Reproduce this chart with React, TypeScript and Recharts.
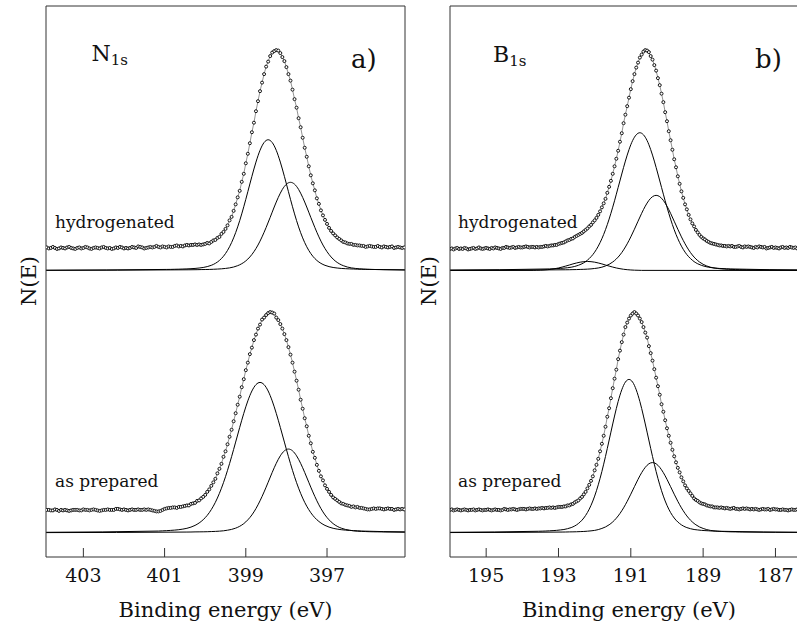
import React from 'react';
import { LineChart, Line, XAxis, YAxis } from 'recharts';

const SERIF = '"DejaVu Serif", "Liberation Serif", serif';
const INK = '#111';
const FRAME = '#333';

// Binding-energy axes (eV), drawn high-to-low as usual for XPS
const N1S_TICKS = [403, 401, 399, 397];
const B1S_TICKS = [195, 193, 191, 189, 187];
const N1S_RANGE: [number, number] = [395.08, 403.92];
const B1S_RANGE: [number, number] = [186.1, 196.0];
const INTENSITY_RANGE: [number, number] = [0, 110];

// Measured scans: one reading every 0.05 eV, starting at the high-energy end
const SCAN_STEP = 0.05;
const N1S_SCAN_START = 403.9;
const B1S_SCAN_START = 196.0;

// Fitted components: one value every 0.1 eV from `start`, plus the level at both window edges
const FIT_STEP = 0.1;
const FIT_BASE_HYDROGENATED = 57.2;

const n1sHydrogenatedScan = [
  61.8, 61.6, 61.7, 61.9, 61.7, 61.5, 61.6, 61.8, 61.7, 61.6,
  61.8, 61.9, 61.7, 61.6, 61.5, 61.7, 61.8, 61.6, 61.7, 61.9,
  61.8, 61.6, 61.5, 61.7, 61.8, 61.7, 61.6, 61.8, 61.9, 61.7,
  61.6, 61.7, 61.5, 61.6, 61.8, 61.7, 61.9, 61.8, 61.6, 61.7,
  61.6, 61.7, 61.9, 61.8, 61.7, 62.0, 61.9, 61.8, 61.6, 61.7,
  61.8, 61.9, 61.8, 61.9, 62.1, 61.9, 61.8, 62.0, 61.9, 61.8,
  62.0, 61.9, 61.9, 62.1, 62.2, 62.0, 62.1, 62.0, 62.2, 62.3,
  62.2, 62.3, 62.3, 62.4,
  62.3, 62.4, 62.3, 62.4, 62.5, 62.7, 62.6, 62.9, 63.2, 63.3,
  63.7, 63.9, 64.5, 64.9, 65.5, 66.2, 67.2, 67.9, 69.1, 70.4,
  71.8, 73.1, 74.9, 76.5, 78.6, 80.5, 82.6, 84.8, 86.7, 89.0,
  91.0, 93.0, 94.7, 96.4, 97.9, 98.9, 100.0, 100.7, 101.0, 101.2,
  101.1, 100.6, 99.8, 99.0, 97.8, 96.4, 95.1, 93.3, 91.4, 89.7,
  87.6, 85.8, 83.7, 81.7, 79.9, 78.0, 76.2, 74.6, 73.2, 71.6,
  70.5, 69.2, 68.2, 67.3, 66.5, 65.7, 65.1, 64.6, 64.2, 63.8,
  63.5, 63.2, 62.9, 62.8, 62.6, 62.5, 62.5, 62.3, 62.3, 62.2,
  62.2, 62.1,
  62.1, 61.9, 62.0, 62.1, 62.0, 61.9, 61.9, 62.1, 61.9, 61.8,
  62.0, 61.9, 61.8, 61.9, 62.0, 61.7, 61.8, 61.9, 61.8, 61.7, 61.8,
];

const n1sPreparedScan = [
  9.4, 9.4, 9.3, 9.3, 9.5, 9.4, 9.2, 9.4, 9.3, 9.4,
  9.3, 9.2, 9.3, 9.4, 9.4, 9.4, 9.3, 9.3, 9.5, 9.4,
  9.4, 9.3, 9.4, 9.5, 9.4, 9.3, 9.2, 9.3, 9.4, 9.4,
  9.5, 9.4, 9.4, 9.4, 9.6, 9.6, 9.5, 9.4, 9.5, 9.4,
  9.3, 9.4, 9.5, 9.4, 9.4, 9.5, 9.4, 9.4, 9.5, 9.4,
  9.5, 9.4, 9.3, 9.2, 9.1, 9.1, 9.2, 9.4, 9.6,
  9.7, 9.8, 9.8, 9.9, 9.9, 9.8, 10.0, 10.0, 10.1, 10.2,
  10.3, 10.3, 10.6, 10.7, 10.8, 11.2, 11.3, 11.7, 12.0, 12.4,
  13.0, 13.5, 14.2, 14.9, 15.6, 16.7, 17.6, 18.6, 20.0, 21.1,
  22.5, 24.0, 25.4, 27.1, 28.7, 30.4, 32.0, 33.9, 35.5, 37.3,
  38.8, 40.5, 41.8, 43.3, 44.4, 45.6, 46.4, 47.4, 47.8, 48.3,
  48.7, 48.9, 48.8, 48.6, 47.8, 47.3, 46.5, 45.6, 44.5, 43.3,
  41.9, 40.4, 38.8, 37.0, 35.2, 33.4, 31.4, 29.6, 27.7, 26.1,
  24.2, 22.7, 21.0, 19.8, 18.4, 17.2, 16.1, 15.3, 14.3, 13.6,
  13.0, 12.4, 11.9, 11.6, 11.3, 11.0, 10.7, 10.6, 10.4, 10.3,
  10.2, 10.0, 10.1, 9.9, 10.0, 9.8,
  9.8, 9.7, 9.6, 9.5, 9.5, 9.6, 9.7, 9.6, 9.7, 9.7,
  9.6, 9.5, 9.6, 9.7, 9.6, 9.6, 9.4, 9.5, 9.6, 9.5, 9.6, 9.5,
];

const b1sHydrogenatedScan = [
  61.5, 61.6, 61.4, 61.6, 61.7, 61.5, 61.6, 61.5, 61.7, 61.6,
  61.4, 61.5, 61.6, 61.7, 61.5, 61.6, 61.8, 61.6, 61.5, 61.6,
  61.7, 61.6, 61.5, 61.7, 61.6, 61.8, 61.7, 61.6, 61.5, 61.7,
  61.7, 61.9, 61.8, 61.7, 61.8, 61.9, 61.7, 61.8, 61.9, 61.8,
  61.8, 61.9, 62.0, 61.9, 61.8, 61.9,
  61.9, 61.8, 61.9, 61.8, 61.9, 61.9, 62.0, 62.1, 62.0, 62.1,
  62.2, 62.2, 62.3, 62.3, 62.5, 62.6, 62.7, 62.8, 63.0, 63.2,
  63.3, 63.5, 63.6, 63.9, 64.1, 64.3, 64.5, 64.7, 65.0, 65.3,
  65.6, 66.0, 66.3, 66.8, 67.2, 67.7, 68.3, 69.0, 69.8, 70.6,
  71.5, 72.7, 73.9, 75.1, 76.5, 78.0, 79.5, 81.1, 82.9, 84.6,
  86.6, 88.3, 90.0, 91.7, 93.4, 95.0, 96.4, 97.7, 98.7, 99.7,
  100.3, 100.9, 101.2, 101.1, 100.8, 100.0, 99.3, 98.2, 97.1, 95.6,
  94.2, 92.5, 90.8, 88.8, 87.0, 85.0, 83.2, 81.3, 79.4, 77.8,
  76.0, 74.5, 73.0, 71.7, 70.4, 69.4, 68.3, 67.4, 66.6, 66.0,
  65.3, 64.8, 64.3, 63.9, 63.6, 63.4, 63.1, 62.9, 62.7, 62.6,
  62.5, 62.4, 62.3, 62.2, 62.2, 62.1, 62.1, 62.0, 62.1,
  62.0, 62.1, 61.9, 61.9, 62.0,
  62.1, 61.9, 61.8, 62.0, 61.9, 62.0, 61.9, 61.8, 61.7, 61.9,
  61.8, 62.0, 61.9, 61.8, 61.9, 61.6, 61.7, 61.8, 61.9, 61.7,
  61.8, 61.7, 61.6, 61.8, 61.9, 61.7, 61.8, 61.7, 61.9, 61.8,
  61.7, 61.8, 61.6, 61.7, 61.7, 61.8, 61.6, 61.7, 61.6,
];

const b1sPreparedScan = [
  9.4, 9.5, 9.3, 9.4, 9.5, 9.4, 9.3, 9.4, 9.5, 9.4,
  9.3, 9.4, 9.4, 9.5, 9.3, 9.4, 9.5, 9.4, 9.3, 9.4,
  9.4, 9.5, 9.4, 9.3, 9.4, 9.5, 9.4, 9.4, 9.3, 9.4,
  9.6, 9.5, 9.4, 9.5, 9.5, 9.6, 9.5, 9.4, 9.5, 9.6,
  9.6, 9.6, 9.5, 9.6, 9.7, 9.6, 9.6, 9.7, 9.6, 9.7,
  9.7, 9.8, 9.7, 9.8, 9.8, 9.9, 9.8,
  9.9, 9.8, 9.9, 10.0, 10.0, 10.0, 10.1, 10.1, 10.3, 10.3,
  10.5, 10.6, 10.9, 11.1, 11.3, 11.7, 12.0, 12.5, 13.0, 13.7,
  14.4, 15.2, 16.1, 17.3, 18.4, 19.6, 21.1, 22.6, 24.2, 26.0,
  28.0, 29.7, 31.7, 33.7, 35.6, 37.4, 39.5, 41.2, 42.9, 44.4,
  45.9, 46.8, 47.6, 48.2, 48.6, 48.9, 48.6, 48.2, 47.6, 46.9,
  45.9, 44.8, 43.8, 42.1, 40.7, 39.2, 37.5, 35.8, 34.1, 32.4,
  30.5, 29.0, 27.3, 25.7, 24.2, 22.8, 21.4, 20.1, 18.9, 17.8,
  16.9, 15.9, 15.1, 14.3, 13.7, 13.2, 12.7, 12.2, 11.7, 11.4,
  11.2, 10.9, 10.7, 10.6, 10.5, 10.3, 10.2, 10.1, 10.1, 9.9,
  9.9, 9.9, 9.8, 9.9, 9.8, 9.7,
  9.8, 9.7, 9.6, 9.7, 9.8, 9.6, 9.6, 9.5, 9.6, 9.7,
  9.6, 9.7, 9.6, 9.5, 9.6, 9.5, 9.6, 9.5, 9.4, 9.5,
  9.6, 9.5, 9.5, 9.6, 9.4, 9.5, 9.6, 9.5, 9.5, 9.4,
  9.4, 9.5, 9.4, 9.4, 9.3, 9.4, 9.5, 9.4, 9.4, 9.5,
  9.4, 9.3, 9.4, 9.5, 9.4, 9.4,
];

// N 1s fitted components
const n1sHydrogenatedFitHigh = { start: 400.95, edges: [57.25, 57.31], values: [
  57.41, 57.42, 57.44, 57.46, 57.49, 57.52, 57.56, 57.61, 57.69, 57.8,
  57.97, 58.23, 58.62, 59.2, 60.04, 61.21, 62.77, 64.75, 67.15, 69.92,
  72.93, 75.99, 78.84, 81.19, 82.75, 83.3, 82.75, 81.19, 78.84, 75.99,
  72.93, 69.92, 67.15, 64.75, 62.77, 61.21, 60.04, 59.2, 58.62, 58.23,
  57.97, 57.8, 57.69, 57.61, 57.56, 57.52, 57.49, 57.46, 57.44, 57.42,
  57.41,
] };
const n1sHydrogenatedFitLow = { start: 400.4, edges: [57.23, 57.31], values: [
  57.34, 57.35, 57.36, 57.38, 57.39, 57.41, 57.44, 57.48, 57.53, 57.61,
  57.72, 57.89, 58.16, 58.55, 59.11, 59.9, 60.95, 62.28, 63.91, 65.78,
  67.8, 69.87, 71.79, 73.38, 74.43, 74.8, 74.43, 73.38, 71.79, 69.87,
  67.8, 65.78, 63.91, 62.28, 60.95, 59.9, 59.11, 58.55, 58.16, 57.89,
  57.72, 57.61, 57.53, 57.48, 57.44, 57.41, 57.39, 57.38, 57.36, 57.35,
  57.34,
] };
const n1sPreparedFitHigh = { start: 401.15, edges: [4.93, 5.02], values: [
  5.18, 5.22, 5.26, 5.31, 5.37, 5.45, 5.57, 5.73, 5.97, 6.31,
  6.79, 7.44, 8.31, 9.46, 10.91, 12.71, 14.84, 17.3, 20.03, 22.94,
  25.87, 28.68, 31.17, 33.14, 34.41, 34.85, 34.41, 33.14, 31.17, 28.68,
  25.87, 22.94, 20.03, 17.3, 14.84, 12.71, 10.91, 9.46, 8.31, 7.44,
  6.79, 6.31, 5.97, 5.73, 5.57, 5.45, 5.37, 5.31, 5.26, 5.22,
  5.18,
] };
const n1sPreparedFitLow = { start: 400.45, edges: [4.87, 4.94], values: [
  4.98, 4.99, 5.01, 5.02, 5.03, 5.05, 5.08, 5.11, 5.16, 5.23,
  5.35, 5.51, 5.76, 6.13, 6.66, 7.42, 8.4, 9.67, 11.22, 12.99,
  14.92, 16.88, 18.7, 20.2, 21.2, 21.55, 21.2, 20.2, 18.7, 16.88,
  14.92, 12.99, 11.22, 9.67, 8.4, 7.42, 6.66, 6.13, 5.76, 5.51,
  5.35, 5.23, 5.16, 5.11, 5.08, 5.05, 5.03, 5.02, 5.01, 4.99,
  4.98,
] };

// B 1s fitted components
const b1sHydrogenatedFitHigh = { start: 193.25, edges: [57.28, 57.29], values: [
  57.51, 57.54, 57.58, 57.61, 57.67, 57.75, 57.85, 58.01, 58.23, 58.54,
  58.97, 59.58, 60.37, 61.42, 62.76, 64.4, 66.36, 68.62, 71.11, 73.78,
  76.46, 79.04, 81.33, 83.14, 84.29, 84.7, 84.29, 83.14, 81.33, 79.04,
  76.46, 73.78, 71.11, 68.62, 66.36, 64.4, 62.76, 61.42, 60.37, 59.58,
  58.97, 58.54, 58.23, 58.01, 57.85, 57.75, 57.67, 57.61, 57.58, 57.54,
  57.51,
] };
const b1sHydrogenatedFitLow = { start: 192.8, edges: [57.24, 57.26], values: [
  57.34, 57.35, 57.37, 57.38, 57.41, 57.43, 57.47, 57.52, 57.6, 57.7,
  57.86, 58.1, 58.43, 58.89, 59.5, 60.3, 61.31, 62.52, 63.91, 65.44,
  67.04, 68.61, 70.04, 71.19, 71.94, 72.2, 71.94, 71.19, 70.04, 68.61,
  67.04, 65.44, 63.91, 62.52, 61.31, 60.3, 59.5, 58.89, 58.43, 58.1,
  57.86, 57.7, 57.6, 57.52, 57.47, 57.43, 57.41, 57.38, 57.37, 57.35,
  57.34,
] };
const b1sHydrogenatedFitMinor = { start: 193.7, edges: [FIT_BASE_HYDROGENATED, FIT_BASE_HYDROGENATED], values: [
  57.22, 57.24, 57.26, 57.3, 57.36, 57.44, 57.56, 57.7, 57.88, 58.08,
  58.29, 58.51, 58.7, 58.86, 58.96, 59.0, 58.96, 58.86, 58.7, 58.51,
  58.29, 58.08, 57.88, 57.7, 57.56, 57.44, 57.36, 57.3, 57.26, 57.24,
  57.22,
] };
const b1sPreparedFitHigh = { start: 193.55, edges: [4.93, 4.93], values: [
  5.14, 5.16, 5.19, 5.23, 5.27, 5.32, 5.4, 5.49, 5.65, 5.87,
  6.2, 6.68, 7.35, 8.29, 9.55, 11.18, 13.23, 15.69, 18.53, 21.67,
  24.93, 28.14, 31.05, 33.38, 34.92, 35.45, 34.92, 33.38, 31.05, 28.14,
  24.93, 21.67, 18.53, 15.69, 13.23, 11.18, 9.55, 8.29, 7.35, 6.68,
  6.2, 5.87, 5.65, 5.49, 5.4, 5.32, 5.27, 5.23, 5.19, 5.16,
  5.14,
] };
const b1sPreparedFitLow = { start: 192.9, edges: [4.88, 4.9], values: [
  4.98, 4.99, 5.01, 5.02, 5.04, 5.07, 5.1, 5.15, 5.22, 5.31,
  5.47, 5.7, 6.0, 6.43, 7.0, 7.75, 8.69, 9.81, 11.11, 12.54,
  14.04, 15.51, 16.84, 17.9, 18.61, 18.85, 18.61, 17.9, 16.84, 15.51,
  14.04, 12.54, 11.11, 9.81, 8.69, 7.75, 7.0, 6.43, 6.0, 5.7,
  5.47, 5.31, 5.22, 5.15, 5.1, 5.07, 5.04, 5.02, 5.01, 4.99,
  4.98,
] };

type Row = { e: number; v: number };
type Fit = { start: number; edges: number[]; values: number[] };

const round2 = (x: number) => Math.round(x * 100) / 100;

function scanRows(start: number, values: number[]): Row[] {
  return values.map((v, i) => ({ e: round2(start - i * SCAN_STEP), v }));
}

// A fitted component runs across the whole window: edge level, sampled body, edge level
function fitRows(fit: Fit, range: [number, number]): Row[] {
  const body = fit.values.map((v, i) => ({ e: round2(fit.start - i * FIT_STEP), v }));
  return [{ e: range[1], v: fit.edges[0] }, ...body, { e: range[0], v: fit.edges[1] }];
}

const TickLabel = (props: any) => (
  <text
    x={props.x}
    y={props.y + 34}
    textAnchor="middle"
    fontFamily={SERIF}
    fontSize={19}
    fill={INK}
  >
    {props.payload.value}
  </text>
);

type PanelProps = {
  left: number;
  width: number;
  marginLeft: number;
  marginRight: number;
  range: [number, number];
  ticks: number[];
  scans: Row[][];
  fits: Row[][];
};

function Panel({ left, width, marginLeft, marginRight, range, ticks, scans, fits }: PanelProps) {
  return (
    <div style={{ position: 'absolute', left, top: 0 }}>
      <LineChart
        width={width}
        height={628}
        margin={{ top: 5, left: marginLeft, right: marginRight, bottom: 11 }}
      >
        <XAxis
          xAxisId="bottom"
          type="number"
          dataKey="e"
          domain={range}
          reversed
          allowDataOverflow
          ticks={ticks}
          interval={0}
          height={60}
          tickSize={-9}
          tickMargin={0}
          axisLine={{ stroke: FRAME, strokeWidth: 1 }}
          tickLine={{ stroke: FRAME, strokeWidth: 1 }}
          tick={<TickLabel />}
        />
        <XAxis
          xAxisId="top"
          orientation="top"
          type="number"
          dataKey="e"
          domain={range}
          reversed
          allowDataOverflow
          ticks={ticks}
          interval={0}
          height={1}
          tickSize={-9}
          tick={false}
          axisLine={{ stroke: FRAME, strokeWidth: 1 }}
          tickLine={{ stroke: FRAME, strokeWidth: 1 }}
        />
        <YAxis
          yAxisId="left"
          type="number"
          domain={INTENSITY_RANGE}
          allowDataOverflow
          width={1}
          tick={false}
          tickLine={false}
          axisLine={{ stroke: FRAME, strokeWidth: 1 }}
        />
        <YAxis
          yAxisId="right"
          orientation="right"
          type="number"
          domain={INTENSITY_RANGE}
          allowDataOverflow
          width={1}
          tick={false}
          tickLine={false}
          axisLine={{ stroke: FRAME, strokeWidth: 1 }}
        />
        {fits.map((rows, i) => (
          <Line
            key={`fit-${i}`}
            xAxisId="bottom"
            yAxisId="left"
            data={rows}
            dataKey="v"
            type="monotone"
            stroke="#000"
            strokeWidth={1}
            dot={false}
            activeDot={false}
            isAnimationActive={false}
          />
        ))}
        {scans.map((rows, i) => (
          <Line
            key={`scan-${i}`}
            xAxisId="bottom"
            yAxisId="left"
            data={rows}
            dataKey="v"
            type="linear"
            stroke="#777"
            strokeWidth={0.8}
            dot={{ r: 1.5, fill: '#fff', stroke: '#000', strokeWidth: 0.9 }}
            activeDot={false}
            isAnimationActive={false}
          />
        ))}
      </LineChart>
    </div>
  );
}

const textStyle = { fontFamily: SERIF, fill: INK } as const;

export default function App() {
  const n1sScans = [
    scanRows(N1S_SCAN_START, n1sHydrogenatedScan),
    scanRows(N1S_SCAN_START, n1sPreparedScan),
  ];
  const n1sFits = [
    fitRows(n1sHydrogenatedFitHigh, N1S_RANGE),
    fitRows(n1sHydrogenatedFitLow, N1S_RANGE),
    fitRows(n1sPreparedFitHigh, N1S_RANGE),
    fitRows(n1sPreparedFitLow, N1S_RANGE),
  ];
  const b1sScans = [
    scanRows(B1S_SCAN_START, b1sHydrogenatedScan),
    scanRows(B1S_SCAN_START, b1sPreparedScan),
  ];
  const b1sFits = [
    fitRows(b1sHydrogenatedFitHigh, B1S_RANGE),
    fitRows(b1sHydrogenatedFitLow, B1S_RANGE),
    fitRows(b1sHydrogenatedFitMinor, B1S_RANGE),
    fitRows(b1sPreparedFitHigh, B1S_RANGE),
    fitRows(b1sPreparedFitLow, B1S_RANGE),
  ];

  return (
    <div
      style={{
        position: 'absolute',
        left: 0,
        top: 0,
        width: 797,
        height: 628,
        overflow: 'hidden',
        background: '#fff',
      }}
    >
      <Panel
        left={0}
        width={420}
        marginLeft={45}
        marginRight={14}
        range={N1S_RANGE}
        ticks={N1S_TICKS}
        scans={n1sScans}
        fits={n1sFits}
      />
      <Panel
        left={420}
        width={400}
        marginLeft={29}
        marginRight={11}
        range={B1S_RANGE}
        ticks={B1S_TICKS}
        scans={b1sScans}
        fits={b1sFits}
      />
      <svg
        width={797}
        height={628}
        style={{ position: 'absolute', left: 0, top: 0, pointerEvents: 'none' }}
      >
        <text x={91.5} y={60.5} fontSize={22} {...textStyle}>
          N<tspan fontSize={15} dy={4}>1s</tspan>
        </text>
        <text x={493} y={61.5} fontSize={22} {...textStyle}>
          B<tspan fontSize={15} dy={4}>1s</tspan>
        </text>
        <text x={351} y={68} fontSize={26} {...textStyle}>a)</text>
        <text x={755} y={68} fontSize={26} {...textStyle}>b)</text>

        <text x={55} y={228} fontSize={17} {...textStyle}>hydrogenated</text>
        <text x={458} y={228} fontSize={17} {...textStyle}>hydrogenated</text>
        <text x={55} y={487} fontSize={17} {...textStyle}>as prepared</text>
        <text x={458} y={487} fontSize={17} {...textStyle}>as prepared</text>

        <text transform="translate(36,281) rotate(-90)" textAnchor="middle" fontSize={21} {...textStyle}>
          N(E)
        </text>
        <text transform="translate(436,281) rotate(-90)" textAnchor="middle" fontSize={21} {...textStyle}>
          N(E)
        </text>

        <text x={225.5} y={617} textAnchor="middle" fontSize={21} {...textStyle}>
          Binding energy (eV)
        </text>
        <text x={629} y={617} textAnchor="middle" fontSize={21} {...textStyle}>
          Binding energy (eV)
        </text>
      </svg>
    </div>
  );
}
